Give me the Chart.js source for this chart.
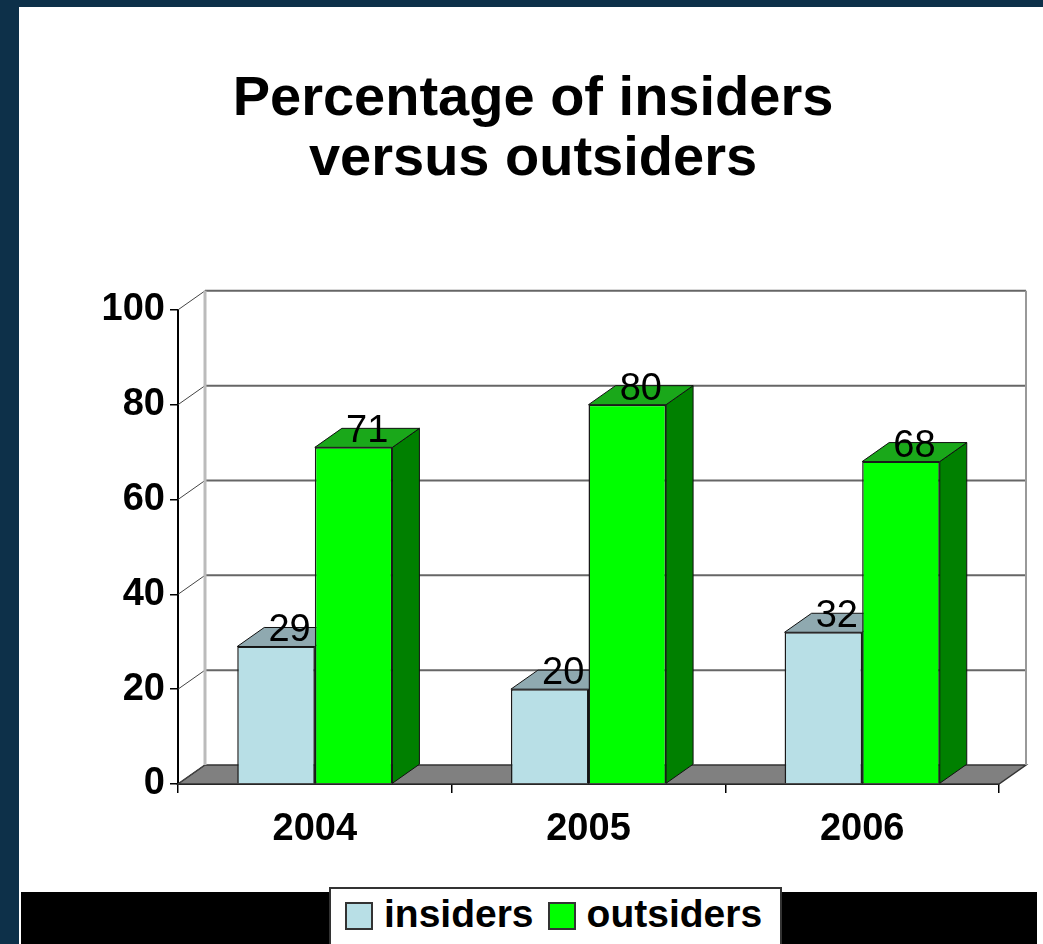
<!DOCTYPE html>
<html>
<head>
<meta charset="utf-8">
<script src="https://cdn.jsdelivr.net/npm/chart.js@4.4.0/dist/chart.umd.min.js"></script>
<style>
  html, body { margin: 0; padding: 0; }
  body { width: 1043px; height: 944px; background: #0d3049; position: relative; overflow: hidden; font-family: 'Liberation Sans', Arial, sans-serif; }
  #panel { position: absolute; left: 19px; top: 7px; right: 0; bottom: 0; background: #fff; }
  #band { position: absolute; left: 21px; top: 892px; width: 1016px; height: 52px; background: #000; }
  #chartCanvas { position: absolute; left: 0; top: 0; }
  #legend { position: absolute; left: 329px; top: 887px; width: 453px; height: 70px; background: #fff; border: 2px solid #333;
            display: flex; align-items: flex-start; padding-left: 14px; box-sizing: border-box; }
  .item { display: flex; align-items: center; margin-right: 14px; font-size: 39px; font-weight: bold; color: #000; line-height: 44px; margin-top: 3px; }
  .swatch { width: 24px; height: 24px; border: 2px solid #333; margin-right: 11px; margin-top: 4px; }
</style>
</head>
<body>
<div id="panel"></div>
<div id="band"></div>
<canvas id="chartCanvas" width="1043" height="892"></canvas>
<div id="legend"></div>
<script>
const years = ['2004', '2005', '2006'];
const insiders = [29, 20, 32];
const outsiders = [71, 80, 68];
const yMin = 0;
const yMax = 100;
const yStep = 20;

// depth of the fake 3D effect, in pixels
const DX = 27;
const DY = -19;
const FONT = "'Liberation Sans', Arial, sans-serif";

function poly(ctx, pts, fill, stroke, lw) {
    ctx.beginPath();
    ctx.moveTo(pts[0][0], pts[0][1]);
    for (let i = 1; i < pts.length; i++) ctx.lineTo(pts[i][0], pts[i][1]);
    ctx.closePath();
    if (fill) { ctx.fillStyle = fill; ctx.fill(); }
    if (stroke) { ctx.strokeStyle = stroke; ctx.lineWidth = lw || 1; ctx.stroke(); }
}

const wallPlugin = {
    id: 'wall3d',
    beforeDatasetsDraw(chart) {
        const ctx = chart.ctx;
        const area = chart.chartArea;
        const y = chart.scales.y;
        ctx.save();

        // floor
        poly(ctx, [[area.left, area.bottom], [area.right, area.bottom],
                   [area.right + DX, area.bottom + DY], [area.left + DX, area.bottom + DY]], '#808080', '#333', 1.5);

        // back wall grid lines + diagonals on the side wall
        y.ticks.forEach(t => {
            const py = y.getPixelForValue(t.value);
            if (t.value !== yMin) {
                ctx.strokeStyle = '#666';
                ctx.lineWidth = 2;
                ctx.beginPath();
                ctx.moveTo(area.left + DX, py + DY);
                ctx.lineTo(area.right + DX, py + DY);
                ctx.stroke();
            }
            ctx.strokeStyle = '#444';
            ctx.lineWidth = 1;
            ctx.beginPath();
            ctx.moveTo(area.left, py);
            ctx.lineTo(area.left + DX, py + DY);
            ctx.stroke();
        });

        // left and right edges of back wall
        ctx.strokeStyle = '#bbb';
        ctx.lineWidth = 3;
        ctx.beginPath();
        ctx.moveTo(area.left + DX, area.top + DY);
        ctx.lineTo(area.left + DX, area.bottom + DY);
        ctx.stroke();
        ctx.strokeStyle = '#999';
        ctx.lineWidth = 2;
        ctx.beginPath();
        ctx.moveTo(area.right + DX, area.top + DY);
        ctx.lineTo(area.right + DX, area.bottom + DY);
        ctx.stroke();

        // top and side faces of every bar
        chart.data.datasets.forEach((ds, i) => {
            chart.getDatasetMeta(i).data.forEach(bar => {
                const x1 = bar.x - bar.width / 2;
                const x2 = bar.x + bar.width / 2;
                poly(ctx, [[x2, bar.y], [x2 + DX, bar.y + DY], [x2 + DX, bar.base + DY], [x2, bar.base]], ds.sideColor, '#111', 1);
                poly(ctx, [[x1, bar.y], [x2, bar.y], [x2 + DX, bar.y + DY], [x1 + DX, bar.y + DY]], ds.topColor, '#111', 1);
            });
        });
        ctx.restore();
    },
    afterDatasetsDraw(chart) {
        const ctx = chart.ctx;
        ctx.save();
        ctx.fillStyle = '#000';
        ctx.font = '38px ' + FONT;
        ctx.textAlign = 'center';
        ctx.textBaseline = 'alphabetic';
        chart.data.datasets.forEach((ds, i) => {
            chart.getDatasetMeta(i).data.forEach((bar, j) => {
                ctx.fillText(String(ds.data[j]), bar.x + DX / 2, bar.y - 5);
            });
        });
        ctx.restore();
    }
};

const chart = new Chart(document.getElementById('chartCanvas').getContext('2d'), {
    type: 'bar',
    data: {
        labels: years,
        datasets: [{
            label: 'insiders',
            data: insiders,
            backgroundColor: '#b8dfe6',
            topColor: '#8fa9b0',
            sideColor: '#7fa0a8',
            borderColor: '#1a1a1a',
            borderWidth: 1.5,
            categoryPercentage: 0.567,
            barPercentage: 1.0
        }, {
            label: 'outsiders',
            data: outsiders,
            backgroundColor: '#00ff00',
            topColor: '#1aa81a',
            sideColor: '#008000',
            borderColor: '#1a1a1a',
            borderWidth: 1.5,
            categoryPercentage: 0.567,
            barPercentage: 1.0
        }]
    },
    options: {
        responsive: false,
        animation: false,
        layout: { padding: { top: 20, left: 67, right: 44, bottom: 38 } },
        plugins: {
            legend: { display: false },
            tooltip: { enabled: false },
            title: {
                display: true,
                text: ['Percentage of insiders', 'versus outsiders'],
                color: '#000',
                font: { family: FONT, size: 56, weight: 'bold', lineHeight: 1.07 },
                padding: { top: 50, bottom: 120 }
            }
        },
        scales: {
            x: {
                offset: true,
                afterFit: s => { s.height = 70; },
                border: { display: true, color: '#000', width: 2 },
                grid: { offset: true, drawOnChartArea: false, drawTicks: true, tickLength: 9, color: '#000', lineWidth: 1.5 },
                ticks: { color: '#000', padding: 14, font: { family: FONT, size: 38, weight: 'bold' } }
            },
            y: {
                min: yMin,
                max: yMax,
                afterFit: s => { s.width = 111; },
                border: { display: true, color: '#000', width: 2 },
                grid: { drawOnChartArea: false, drawTicks: true, tickLength: 8, color: '#000', lineWidth: 1.5 },
                ticks: { stepSize: yStep, color: '#000', padding: 5, font: { family: FONT, size: 38, weight: 'bold' } }
            }
        }
    },
    plugins: [wallPlugin]
});

// html legend built from the datasets
const legend = document.getElementById('legend');
chart.data.datasets.forEach(ds => {
    const item = document.createElement('div');
    item.className = 'item';
    const sw = document.createElement('span');
    sw.className = 'swatch';
    sw.style.background = ds.backgroundColor;
    item.appendChild(sw);
    item.appendChild(document.createTextNode(ds.label));
    legend.appendChild(item);
});
</script>
</body>
</html>
